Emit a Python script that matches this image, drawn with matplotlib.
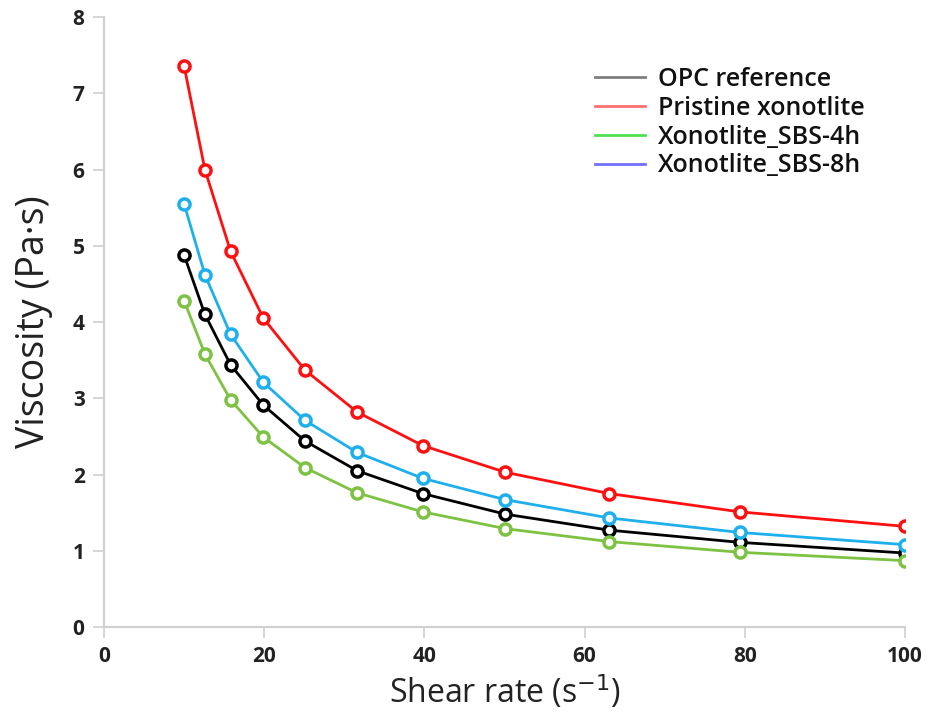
import numpy as np
import matplotlib.pyplot as plt

plt.rcParams['font.family'] = ['Open Sans', 'DejaVu Sans']

shear = [10, 12.6, 15.8, 19.9, 25.1, 31.6, 39.8, 50.1, 63.1, 79.4, 100]
opc = [4.88, 4.10, 3.44, 2.91, 2.44, 2.05, 1.75, 1.48, 1.27, 1.11, 0.97]
pristine = [7.36, 6.00, 4.93, 4.05, 3.37, 2.82, 2.38, 2.03, 1.75, 1.51, 1.32]
sbs4 = [4.28, 3.58, 2.98, 2.49, 2.09, 1.76, 1.51, 1.29, 1.12, 0.98, 0.87]
sbs8 = [5.55, 4.62, 3.84, 3.21, 2.71, 2.29, 1.95, 1.67, 1.43, 1.24, 1.08]

labels = ["OPC reference", "Pristine xonotlite", "Xonotlite_SBS-4h", "Xonotlite_SBS-8h"]
series = [opc, pristine, sbs4, sbs8]
colors = ["black", "#ff1010", "#7dc242", "#1eb0ec"]
legend_colors = ["#808080", "#ff7070", "#50e050", "#7070ff"]

fig = plt.figure(figsize=(9.32, 7.19), dpi=100)
ax = fig.add_axes([0.1116, 0.128, 0.8594, 0.848])

for vals, c in zip(series, colors):
    ax.plot(shear, vals, "-", color=c, linewidth=2, marker="o", markersize=8,
            markerfacecolor="white", markeredgecolor=c, markeredgewidth=2.5)

# legend uses plain lighter lines, as in the original
handles = [plt.Line2D([], [], color=c, linewidth=2) for c in legend_colors]
leg = ax.legend(handles, labels, frameon=False, loc="upper left",
                bbox_to_anchor=(0.585, 0.955), handlelength=2.0, labelspacing=0.15,
                handletextpad=0.5, prop={"size": 18, "weight": "semibold"})
for t in leg.get_texts():
    t.set_color("#111111")

ax.set_xlim(0, 100)
ax.set_ylim(0, 8)
ax.set_xticks([0, 20, 40, 60, 80, 100])
ax.set_yticks(range(0, 9))
for s in ["top", "right"]:
    ax.spines[s].set_visible(False)
for s in ["left", "bottom"]:
    ax.spines[s].set_color("#d0d0d0")
    ax.spines[s].set_linewidth(1.5)
ax.tick_params(direction="out", length=8, width=1.2, color="#d0d0d0",
               labelsize=15, labelcolor="#222222", pad=6)
for t in ax.get_xticklabels() + ax.get_yticklabels():
    t.set_fontweight("bold")

ax.set_xlabel(r"Shear rate (s$^{-1}$)", fontsize=23, color="#222222", labelpad=4)
ax.set_ylabel("Viscosity (Pa·s)", fontsize=27, color="#222222", labelpad=14)

plt.savefig("out.png", dpi=100)
